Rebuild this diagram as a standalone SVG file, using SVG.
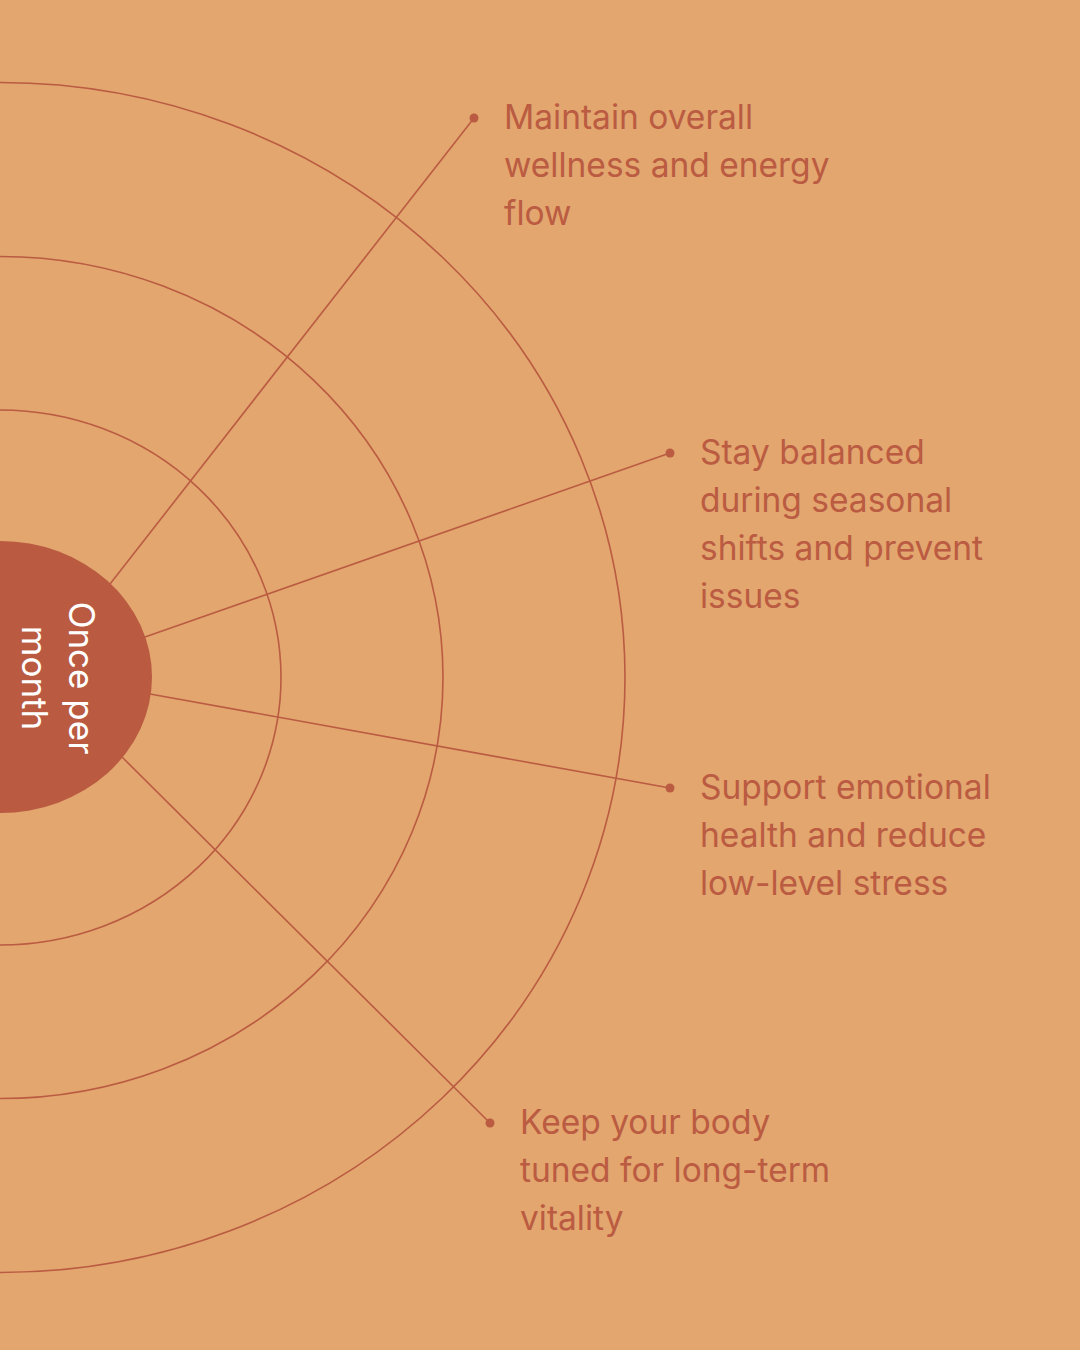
<svg xmlns="http://www.w3.org/2000/svg" width="1080" height="1350" viewBox="0 0 1080 1350">
<style>
.ring{fill:none;stroke:#BA5B42;stroke-width:1.6}
.conn{stroke:#BA5B42;stroke-width:1.6;fill:none}
.dot{fill:#BA5B42}
.lbl{font-family:Inter,"Noto Sans",sans-serif;font-size:33.5px;fill:#BA5B42}
.ctr{font-family:Inter,"Noto Sans",sans-serif;font-size:35px;fill:#FFFFFF;text-anchor:middle}
</style>
<rect width="1080" height="1350" fill="#E2A66E"/>
<g id="rings">
<ellipse class="ring" cx="0" cy="677.5" rx="625" ry="595"/>
<ellipse class="ring" cx="0" cy="677.5" rx="443" ry="421"/>
<ellipse class="ring" cx="0" cy="677.5" rx="281" ry="267.5"/>
</g>
<g id="connectors">
<line class="conn" x1="110" y1="584" x2="474" y2="118"/>
<line class="conn" x1="145" y1="637" x2="670" y2="453"/>
<line class="conn" x1="150" y1="694" x2="670" y2="788"/>
<line class="conn" x1="122" y1="757" x2="490" y2="1123"/>
<circle class="dot" cx="474" cy="118" r="4.5"/>
<circle class="dot" cx="670" cy="453" r="4.5"/>
<circle class="dot" cx="670" cy="788" r="4.5"/>
<circle class="dot" cx="490" cy="1123" r="4.5"/>
</g>
<g id="center">
<ellipse cx="0" cy="677" rx="152" ry="136" fill="#B95A41"/>
<g transform="translate(0,678) rotate(90)">
<text class="ctr" x="0" y="-69">Once per</text>
<text class="ctr" x="0" y="-22">month</text>
</g>
</g>
<g id="node1">
<text class="lbl" x="504" y="129">Maintain overall</text>
<text class="lbl" x="504" y="177">wellness and energy</text>
<text class="lbl" x="504" y="225">flow</text>
</g>
<g id="node2">
<text class="lbl" x="700" y="464">Stay balanced</text>
<text class="lbl" x="700" y="512">during seasonal</text>
<text class="lbl" x="700" y="560">shifts and prevent</text>
<text class="lbl" x="700" y="608">issues</text>
</g>
<g id="node3">
<text class="lbl" x="700" y="799">Support emotional</text>
<text class="lbl" x="700" y="847">health and reduce</text>
<text class="lbl" x="700" y="895">low-level stress</text>
</g>
<g id="node4">
<text class="lbl" x="520" y="1134">Keep your body</text>
<text class="lbl" x="520" y="1182">tuned for long-term</text>
<text class="lbl" x="520" y="1230">vitality</text>
</g>
</svg>
